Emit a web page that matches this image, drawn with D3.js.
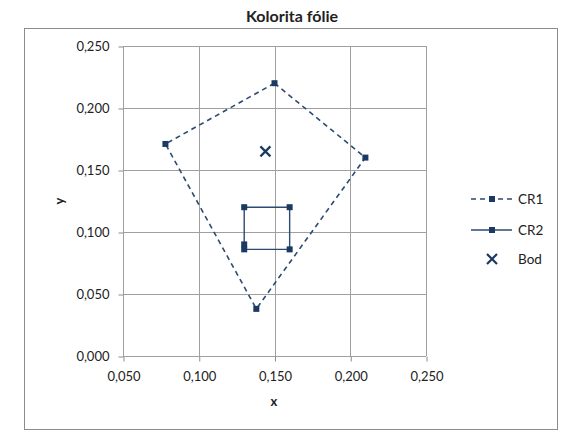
<!DOCTYPE html>
<html><head><meta charset="utf-8">
<script src="https://cdn.jsdelivr.net/npm/d3@7/dist/d3.min.js"></script>
<style>body{margin:0;background:#fff}svg{display:block}text{font-family:Lato,"Open Sans",sans-serif;fill:#222}</style>
</head><body><svg id="c" width="564" height="433"></svg>
<script>
const title = "Kolorita fólie";
const xTicks = [0.05, 0.10, 0.15, 0.20, 0.25];
const yTicks = [0.00, 0.05, 0.10, 0.15, 0.20, 0.25];
const cr1X = [0.150, 0.210, 0.138, 0.078, 0.150];
const cr1Y = [0.220, 0.160, 0.038, 0.171, 0.220];
const cr2X = [0.130, 0.130, 0.160, 0.160, 0.130];
const cr2Y = [0.090, 0.120, 0.120, 0.086, 0.086];
const bodX = [0.144];
const bodY = [0.165];
const seriesNames = ["CR1", "CR2", "Bod"];

const svg = d3.select("#c");
const fmt = v => d3.format(".3f")(v).replace(".", ",");
const x = d3.scaleLinear().domain([0.05, 0.25]).range([123, 426]);
const y = d3.scaleLinear().domain([0, 0.25]).range([356, 46]);
const col = "#1b3a63";

svg.append("rect").attr("x", 24.5).attr("y", 28.5).attr("width", 533).attr("height", 401)
  .attr("fill", "#fff").attr("stroke", "#8c8c8c").attr("stroke-width", 1);

// grid
svg.append("g").selectAll("line").data(xTicks).join("line")
  .attr("x1", d => Math.round(x(d)) + 0.5).attr("x2", d => Math.round(x(d)) + 0.5)
  .attr("y1", y(0.25)).attr("y2", y(0)).attr("stroke", "#a0a0a0");
svg.append("g").selectAll("line").data(yTicks).join("line")
  .attr("y1", d => Math.round(y(d)) + 0.5).attr("y2", d => Math.round(y(d)) + 0.5)
  .attr("x1", x(0.05)).attr("x2", x(0.25)).attr("stroke", "#a0a0a0");

// axes
const yAxis = d3.axisLeft(y).tickValues(yTicks).tickFormat(fmt).tickSize(5).tickPadding(9);
const gy = svg.append("g").attr("transform", `translate(${Math.round(x(0.05)) + 0.5},0.5)`).call(yAxis);
const xAxis = d3.axisBottom(x).tickValues(xTicks).tickFormat(fmt).tickSize(5).tickPadding(10);
const gx = svg.append("g").attr("transform", `translate(0.5,${Math.round(y(0)) + 0.5})`).call(xAxis);
[gx, gy].forEach(g => {
  g.select(".domain").remove();
  g.selectAll(".tick line").attr("stroke", "#8c8c8c");
  g.selectAll("text").attr("font-size", 13).attr("fill", "#222").attr("font-family", "Lato, sans-serif");
});

// titles
svg.append("text").attr("x", 292).attr("y", 22).attr("text-anchor", "middle")
  .attr("font-weight", "bold").attr("font-size", 16).text(title);
svg.append("text").attr("x", 274).attr("y", 406).attr("text-anchor", "middle")
  .attr("font-weight", "bold").attr("font-size", 13).text("x");
svg.append("text").attr("transform", "translate(64,201) rotate(-90)").attr("text-anchor", "middle")
  .attr("font-weight", "bold").attr("font-size", 13).text("y");

const line = d3.line().x(d => x(d[0])).y(d => y(d[1]));
const cr1 = cr1X.map((v, i) => [v, cr1Y[i]]);
const cr2 = cr2X.map((v, i) => [v, cr2Y[i]]);
svg.append("path").attr("d", line(cr1)).attr("fill", "none").attr("stroke", "#2c4a72")
  .attr("stroke-width", 1.6).attr("stroke-dasharray", "5,4");
svg.append("path").attr("d", line(cr2)).attr("fill", "none").attr("stroke", "#2c4a72")
  .attr("stroke-width", 1.4);
const markers = (pts) => svg.append("g").selectAll("rect").data(pts).join("rect")
  .attr("x", d => x(d[0]) - 3).attr("y", d => y(d[1]) - 3).attr("width", 6).attr("height", 6).attr("fill", col);
markers(cr1.slice(0, 4));
markers(cr2);

const bx = x(bodX[0]), by = y(bodY[0]);
svg.append("path").attr("d", `M${bx-5},${by-5}L${bx+5},${by+5}M${bx-5},${by+5}L${bx+5},${by-5}`)
  .attr("stroke", col).attr("stroke-width", 2.2);

// legend
const lg = svg.append("g");
const ly = [199, 230, 259];
lg.append("line").attr("x1", 471).attr("x2", 512).attr("y1", ly[0]).attr("y2", ly[0])
  .attr("stroke", "#2c4a72").attr("stroke-width", 1.6).attr("stroke-dasharray", "5,4");
lg.append("line").attr("x1", 471).attr("x2", 512).attr("y1", ly[1]).attr("y2", ly[1])
  .attr("stroke", "#2c4a72").attr("stroke-width", 1.4);
[0, 1].forEach(i => lg.append("rect").attr("x", 489).attr("y", ly[i] - 3).attr("width", 6).attr("height", 6).attr("fill", col));
lg.append("path").attr("d", `M${487},${ly[2]-5}L${497},${ly[2]+5}M${487},${ly[2]+5}L${497},${ly[2]-5}`)
  .attr("stroke", col).attr("stroke-width", 2.2);
lg.selectAll("text.l").data(seriesNames).join("text").attr("class", "l")
  .attr("x", 518).attr("y", (d, i) => ly[i] + 5).attr("font-size", 13.5).text(d => d);
</script></body></html>
